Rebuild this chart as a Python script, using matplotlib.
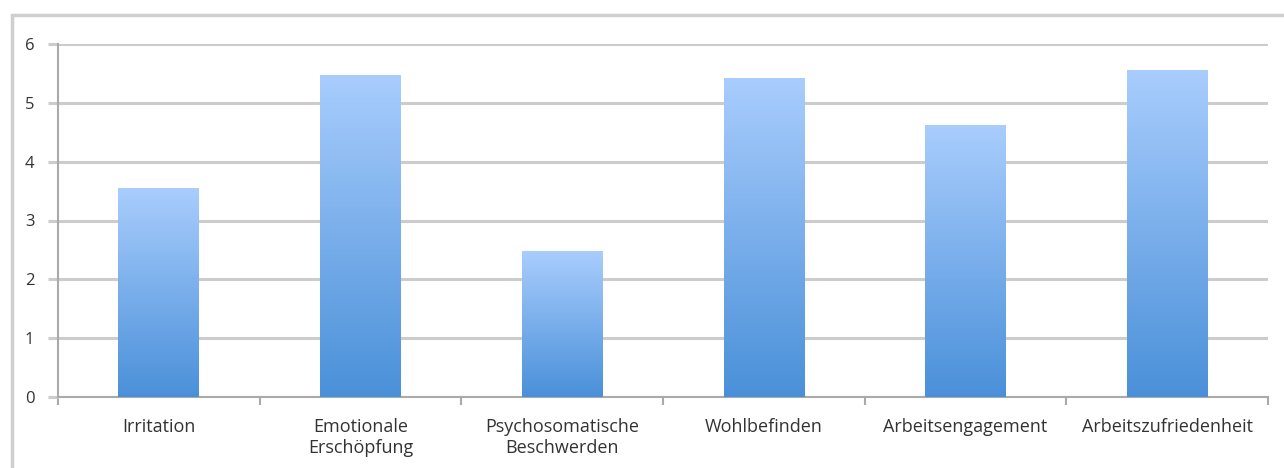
import numpy as np
import matplotlib.pyplot as plt
from matplotlib.patches import Rectangle
from matplotlib.colors import LinearSegmentedColormap

# data
categories = ["Irritation", "Emotionale\nErschöpfung", "Psychosomatische\nBeschwerden",
              "Wohlbefinden", "Arbeitsengagement", "Arbeitszufriedenheit"]
values = [3.55, 5.47, 2.48, 5.42, 4.62, 5.56]
yticks = [0, 1, 2, 3, 4, 5, 6]

plt.rcParams['font.family'] = ['Open Sans', 'DejaVu Sans']

fig = plt.figure(figsize=(12.84, 4.68), dpi=100)
ax = fig.add_axes([58/1284, 1 - 397/468, (1268 - 58)/1284, (397 - 44)/468])

# outer frame (cut off at right and bottom)
fig.patches.append(Rectangle((12/1284, -0.1), 1.2, 1 - 15/468 + 0.1,
                             transform=fig.transFigure, fill=False,
                             edgecolor="#cfcfcf", linewidth=2.5))

cmap = LinearSegmentedColormap.from_list("bar", ["#4a90d9", "#a9cdfd"])
grad = np.linspace(0, 1, 256).reshape(-1, 1)
width = 0.4
x = np.arange(len(categories))
bars = ax.bar(x, values, width=width, color="none", edgecolor="none", zorder=3)
for b in bars:
    x0, h = b.get_x(), b.get_height()
    im = ax.imshow(grad, cmap=cmap, aspect="auto", origin="lower",
                   extent=(x0, x0 + width, 0, h), zorder=3)
    im.set_clip_path(b)

ax.set_xlim(-0.5, len(categories) - 0.5)
ax.set_ylim(0, 6)
ax.set_yticks(yticks)
ax.set_yticklabels([str(t) for t in yticks])
ax.yaxis.grid(True, color="#cccccc", linewidth=2.2, zorder=0)
ax.set_axisbelow(True)

# x ticks at category boundaries, labels centered
ax.set_xticks(np.arange(-0.5, len(categories)), minor=False)
ax.set_xticklabels([])
ax.set_xticks(x, minor=True)
ax.set_xticklabels(categories, minor=True, fontsize=13, color="#333333",
                   linespacing=1.2)
ax.tick_params(axis="x", which="minor", length=0, pad=15)
ax.tick_params(axis="x", which="major", length=6, color="#aaaaaa", width=1.5)
ax.tick_params(axis="y", length=7, color="#cccccc", width=2.2, labelsize=12,
               labelcolor="#333333", pad=10)

for s in ["top", "right"]:
    ax.spines[s].set_visible(False)
ax.spines["left"].set_color("#aaaaaa")
ax.spines["bottom"].set_color("#aaaaaa")
ax.spines["left"].set_linewidth(1.5)
ax.spines["bottom"].set_linewidth(1.5)

fig.savefig("out.png", dpi=100)
